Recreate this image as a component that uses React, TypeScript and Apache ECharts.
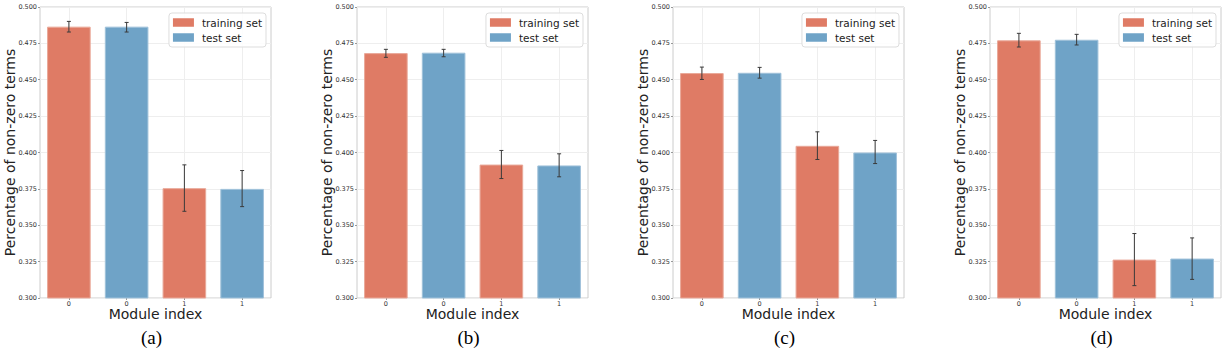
import React, { useEffect, useRef } from "react";
import * as echarts from "echarts";

// ---- data ----
const panelLabels = ["(a)", "(b)", "(c)", "(d)"];
const categories = ["0", "0", "1", "1"];
const yTicks = [0.3, 0.325, 0.35, 0.375, 0.4, 0.425, 0.45, 0.475, 0.5];

// training set: module 0, module 1 (per panel)
const trainMean = [
  [0.4865, 0.3755],
  [0.4683, 0.3917],
  [0.4546, 0.4046],
  [0.4771, 0.3264],
];
const trainLow = [
  [0.4828, 0.3596],
  [0.4654, 0.3821],
  [0.4502, 0.3952],
  [0.4725, 0.3085],
];
const trainHigh = [
  [0.4901, 0.3915],
  [0.4709, 0.4014],
  [0.4587, 0.4142],
  [0.4819, 0.3443],
];
// test set: module 0, module 1 (per panel)
const testMean = [
  [0.4865, 0.375],
  [0.4686, 0.3911],
  [0.4548, 0.4],
  [0.4775, 0.3271],
];
const testLow = [
  [0.4828, 0.3628],
  [0.4658, 0.3833],
  [0.4511, 0.3924],
  [0.4739, 0.3128],
];
const testHigh = [
  [0.4894, 0.3876],
  [0.4709, 0.3991],
  [0.4585, 0.4083],
  [0.4812, 0.3413],
];

// ---- layout ----
const W = 1227;
const H = 351;
const gridLefts = [40, 357, 673, 990];
const GRID_W = 231;
const GRID_TOP = 7;
const GRID_H = 291;

const ORANGE = "#df7b65";
const BLUE = "#6fa3c7";
const FONT = "DejaVu Sans";

export default function App() {
  const ref = useRef<HTMLDivElement>(null);

  useEffect(() => {
    if (!ref.current) return;
    const chart = echarts.init(ref.current, undefined, { renderer: "svg" });

    const grid: any[] = [];
    const xAxis: any[] = [];
    const yAxis: any[] = [];
    const series: any[] = [];
    const legend: any[] = [];
    const graphic: any[] = [];

    panelLabels.forEach((lab, p) => {
      const left = gridLefts[p];
      grid.push({
        left,
        top: GRID_TOP,
        width: GRID_W,
        height: GRID_H,
        show: true,
        borderColor: "#cccccc",
        borderWidth: 1,
        backgroundColor: "transparent",
      });
      xAxis.push({
        type: "category",
        gridIndex: p,
        data: categories,
        boundaryGap: true,
        name: "Module index",
        nameLocation: "middle",
        nameGap: 9,
        nameMoveOverlap: false,
        nameTextStyle: { fontFamily: FONT, fontSize: 14, lineHeight: 14, color: "#222", verticalAlign: "top" },
        axisLine: { show: false },
        axisTick: { show: true, alignWithLabel: true, length: 2, lineStyle: { color: "#999" } },
        axisLabel: { fontFamily: FONT, fontSize: 6.5, lineHeight: 7, color: "#333", margin: 2 },
        splitLine: { show: true, alignWithLabel: true, lineStyle: { color: "#eeeeee", width: 1 } },
      });
      yAxis.push({
        type: "value",
        gridIndex: p,
        min: yTicks[0],
        max: yTicks[yTicks.length - 1],
        interval: 0.025,
        name: "Percentage of non-zero terms",
        nameLocation: "middle",
        nameRotate: 90,
        nameGap: 23,
        nameMoveOverlap: false,
        nameTextStyle: { fontFamily: FONT, fontSize: 14, color: "#222" },
        axisLine: { show: false },
        axisTick: { show: true, length: 2, lineStyle: { color: "#999" } },
        axisLabel: {
          fontFamily: FONT,
          fontSize: 6.5,
          color: "#333",
          margin: 3,
          formatter: (v: number) => v.toFixed(3),
        },
        splitLine: { show: true, lineStyle: { color: "#eeeeee", width: 1 } },
      });

      const trainData = [trainMean[p][0], "-", trainMean[p][1], "-"];
      const testData = ["-", testMean[p][0], "-", testMean[p][1]];
      series.push({
        type: "bar",
        name: "training set",
        xAxisIndex: p,
        yAxisIndex: p,
        data: trainData,
        barWidth: "75.5%",
        barGap: "-100%",
        itemStyle: { color: ORANGE, borderColor: "#e9a899", borderWidth: 1 },
      });
      series.push({
        type: "bar",
        name: "test set",
        xAxisIndex: p,
        yAxisIndex: p,
        data: testData,
        barWidth: "75.5%",
        barGap: "-100%",
        itemStyle: { color: BLUE, borderColor: "#9fc1da", borderWidth: 1 },
      });
      const errData = [
        [0, trainLow[p][0], trainHigh[p][0]],
        [1, testLow[p][0], testHigh[p][0]],
        [2, trainLow[p][1], trainHigh[p][1]],
        [3, testLow[p][1], testHigh[p][1]],
      ];
      series.push({
        type: "custom",
        xAxisIndex: p,
        yAxisIndex: p,
        data: errData,
        z: 5,
        silent: true,
        renderItem: (_params: any, api: any) => {
          const x = api.value(0);
          const lo = api.coord([x, api.value(1)]);
          const hi = api.coord([x, api.value(2)]);
          const cap = 2;
          const st = { stroke: "#3a3a3a", lineWidth: 1 };
          return {
            type: "group",
            children: [
              { type: "line", shape: { x1: lo[0], y1: lo[1], x2: hi[0], y2: hi[1] }, style: st },
              { type: "line", shape: { x1: lo[0] - cap, y1: lo[1], x2: lo[0] + cap, y2: lo[1] }, style: st },
              { type: "line", shape: { x1: hi[0] - cap, y1: hi[1], x2: hi[0] + cap, y2: hi[1] }, style: st },
            ],
          };
        },
      });

      legend.push({
        data: ["training set", "test set"],
        orient: "vertical",
        right: W - (left + GRID_W - 5),
        top: 13,
        icon: "rect",
        itemWidth: 21,
        itemHeight: 8.5,
        itemGap: 2,
        padding: [3, 4, 3, 4],
        borderColor: "#dddddd",
        borderWidth: 1,
        borderRadius: 3,
        backgroundColor: "rgba(255,255,255,0.85)",
        selectedMode: false,
        itemStyle: { borderWidth: 0 },
        textStyle: { fontFamily: FONT, fontSize: 10.5, color: "#222", lineHeight: 13, padding: [0, 0, 0, 3] },
      });

      graphic.push({
        type: "text",
        x: left + GRID_W / 2 - 4,
        y: 337,
        style: {
          text: lab,
          fontFamily: "Liberation Serif",
          fontSize: 19,
          fill: "#000",
          textAlign: "center",
          textVerticalAlign: "middle",
        },
      });
    });

    chart.setOption({
      animation: false,
      backgroundColor: "#ffffff",
      grid,
      xAxis,
      yAxis,
      series,
      legend,
      graphic,
    });

    return () => chart.dispose();
  }, []);

  return (
    <div
      ref={ref}
      style={{ position: "absolute", left: 0, top: 0, width: W, height: H }}
    />
  );
}
